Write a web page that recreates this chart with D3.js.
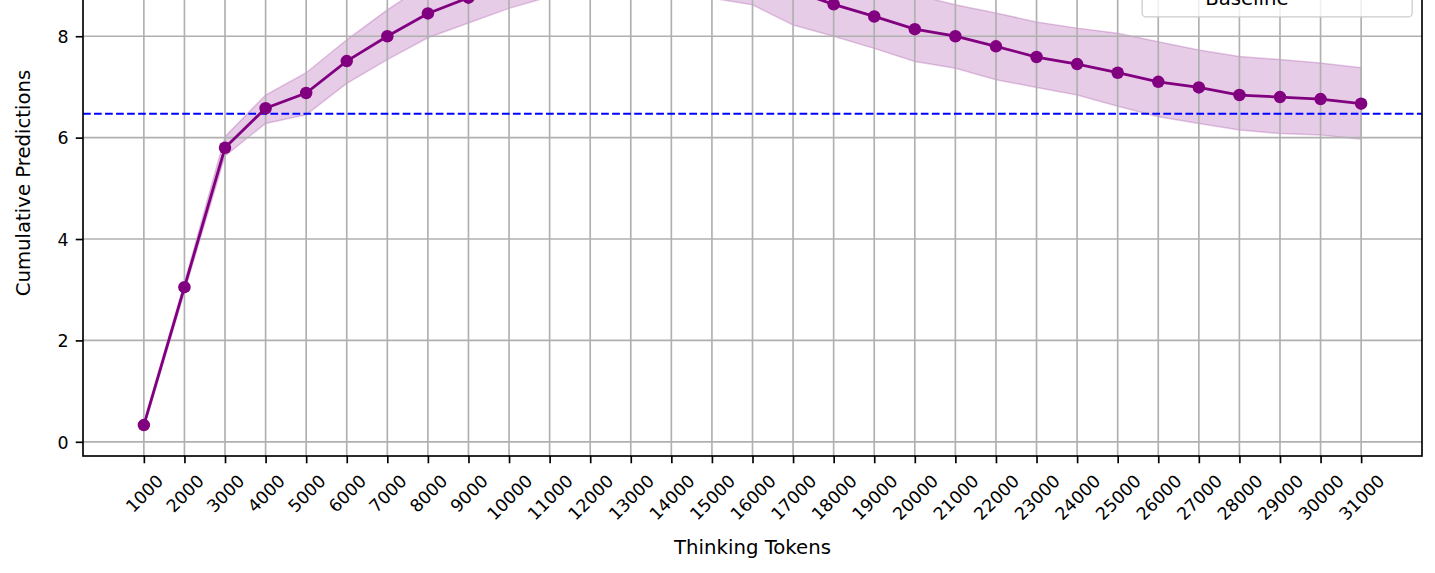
<!DOCTYPE html>
<html>
<head>
<meta charset="utf-8">
<script src="https://cdn.jsdelivr.net/npm/d3@7"></script>
<style>
  body { margin: 0; background: #fff; }
  svg { display: block; font-family: "DejaVu Sans", sans-serif; }
</style>
</head>
<body>
<div id="chart"></div>
<script>
// data (tokens 10000-17000 sit above the visible area, estimated)
var tokens = [1000, 2000, 3000, 4000, 5000, 6000, 7000, 8000, 9000, 10000,
  11000, 12000, 13000, 14000, 15000, 16000, 17000, 18000, 19000, 20000,
  21000, 22000, 23000, 24000, 25000, 26000, 27000, 28000, 29000, 30000, 31000];
var meanPred = [0.33, 3.05, 5.80, 6.58, 6.88, 7.51, 8.00, 8.45, 8.76, 9.00,
  9.25, 9.40, 9.45, 9.45, 9.35, 9.15, 8.90, 8.63, 8.39, 8.14,
  8.00, 7.80, 7.59, 7.45, 7.28, 7.10, 6.99, 6.84, 6.80, 6.76, 6.67];
var lowerPred = [0.27, 2.96, 5.64, 6.28, 6.45, 7.07, 7.54, 7.97, 8.26, 8.55,
  8.78, 8.90, 8.95, 8.90, 8.75, 8.62, 8.22, 8.00, 7.76, 7.50,
  7.37, 7.14, 6.99, 6.84, 6.62, 6.41, 6.28, 6.15, 6.08, 6.05, 5.97];
var upperPred = [0.39, 3.14, 6.02, 6.84, 7.28, 7.93, 8.52, 9.05, 9.30, 9.50,
  9.70, 9.85, 9.90, 9.95, 9.90, 9.70, 9.50, 9.30, 9.05, 8.82,
  8.62, 8.46, 8.28, 8.16, 8.06, 7.89, 7.73, 7.60, 7.54, 7.47, 7.38];
var baselineValue = 6.47;
var yTicks = [0, 2, 4, 6, 8, 10];
var legendLabels = ["Mean Predictions", "Standard Deviation", "Baseline"];

var svgWidth = 1435;
var svgHeight = 573;

// plot top lies above the picture, like the cropped reference
var margin = { top: -90, right: 13, bottom: 117, left: 83 };
var width = svgWidth - margin.left - margin.right;
var height = svgHeight - margin.top - margin.bottom;

var pt = 2.08;             // px per point
var tickFont = 17.4;
var labelFont = 19.7;
var purple = "#800080";

var svg = d3.select("#chart")
  .append("svg")
  .attr("width", svgWidth)
  .attr("height", svgHeight);

var chartGroup = svg.append("g")
  .attr("transform", `translate(${margin.left}, ${margin.top})`);

var xScale = d3.scaleLinear()
  .domain([-500, 32500])
  .range([0, width]);

var yScale = d3.scaleLinear()
  .domain([-0.28, 10.49])
  .range([height, 0]);

var data = tokens.map((t, i) => ({
  t: t, mean: meanPred[i], lo: lowerPred[i], hi: upperPred[i]
}));

// std band
var area = d3.area()
  .x(d => xScale(d.t))
  .y0(d => yScale(d.lo))
  .y1(d => yScale(d.hi));

chartGroup.append("path")
  .datum(data)
  .attr("d", area)
  .attr("fill", purple)
  .attr("fill-opacity", 0.2)
  .attr("stroke", purple)
  .attr("stroke-opacity", 0.2)
  .attr("stroke-width", 1.5);

// grid
chartGroup.append("g")
  .selectAll("line")
  .data(tokens)
  .enter()
  .append("line")
  .attr("x1", d => xScale(d))
  .attr("x2", d => xScale(d))
  .attr("y1", 0)
  .attr("y2", height)
  .attr("stroke", "#b0b0b0")
  .attr("stroke-width", 0.8 * pt);

chartGroup.append("g")
  .selectAll("line")
  .data(yTicks)
  .enter()
  .append("line")
  .attr("x1", 0)
  .attr("x2", width)
  .attr("y1", d => yScale(d))
  .attr("y2", d => yScale(d))
  .attr("stroke", "#b0b0b0")
  .attr("stroke-width", 0.8 * pt);

// baseline
chartGroup.append("line")
  .attr("x1", 0)
  .attr("x2", width)
  .attr("y1", yScale(baselineValue))
  .attr("y2", yScale(baselineValue))
  .attr("stroke", "#0000ff")
  .attr("stroke-width", 2)
  .attr("stroke-dasharray", `${3.7 * pt},${1.6 * pt}`);

// mean line + markers
var line = d3.line()
  .x(d => xScale(d.t))
  .y(d => yScale(d.mean));

chartGroup.append("path")
  .datum(data)
  .attr("d", line)
  .attr("fill", "none")
  .attr("stroke", purple)
  .attr("stroke-width", 2.8);

chartGroup.selectAll("circle")
  .data(data)
  .enter()
  .append("circle")
  .attr("cx", d => xScale(d.t))
  .attr("cy", d => yScale(d.mean))
  .attr("r", 6.25)
  .attr("fill", purple);

// axes
var tickLen = 3.5 * pt;
var bottomAxis = d3.axisBottom(xScale).tickValues(tokens).tickSize(tickLen).tickPadding(tickLen)
  .tickFormat(d3.format("d"));
var leftAxis = d3.axisLeft(yScale).tickValues(yTicks).tickSize(tickLen).tickPadding(tickLen)
  .tickFormat(d3.format("d"));

var xAxisG = chartGroup.append("g")
  .attr("transform", `translate(0, ${height})`)
  .call(bottomAxis)
  .attr("font-size", tickFont)
  .attr("font-family", "DejaVu Sans");
xAxisG.select(".domain").remove();
xAxisG.selectAll("line").attr("stroke", "#000").attr("stroke-width", 0.8 * pt);
xAxisG.selectAll("text")
  .attr("fill", "#000")
  .attr("y", 0)
  .attr("dy", "0.36em")
  .style("text-anchor", "middle")
  .each(function () {
    var w = this.getComputedTextLength();
    var cy = 2 * tickLen + (w + 1.164 * tickFont) * 0.3536;
    d3.select(this).attr("transform", `translate(0, ${cy}) rotate(-45)`);
  });

var yAxisG = chartGroup.append("g")
  .call(leftAxis)
  .attr("font-size", tickFont)
  .attr("font-family", "DejaVu Sans");
yAxisG.select(".domain").remove();
yAxisG.selectAll("line").attr("stroke", "#000").attr("stroke-width", 0.8 * pt);
yAxisG.selectAll("text")
  .attr("fill", "#000")
  .attr("dy", "0.36em");

// frame
chartGroup.append("rect")
  .attr("x", 0)
  .attr("y", 0)
  .attr("width", width)
  .attr("height", height)
  .attr("fill", "none")
  .attr("stroke", "#000")
  .attr("stroke-width", 0.8 * pt);

// legend (upper right, mostly above the picture)
var legendG = chartGroup.append("g");
var pad = 0.4 * labelFont;
var rowH = 1.17 * labelFont;
var rowGap = 0.5 * labelFont;
var textX = pad + 2 * labelFont + 0.8 * labelFont;

var legendTexts = legendG.selectAll("text")
  .data(legendLabels)
  .enter()
  .append("text")
  .attr("font-size", labelFont)
  .attr("fill", "#000")
  .attr("x", textX)
  .attr("y", (d, i) => pad + i * (rowH + rowGap) + rowH / 2)
  .attr("dy", "0.36em")
  .text(d => d);

var maxW = d3.max(legendTexts.nodes(), n => n.getComputedTextLength());
var boxW = Math.max(270, textX + maxW + pad);
var boxH = pad * 2 + legendLabels.length * rowH + (legendLabels.length - 1) * rowGap;

legendG.insert("rect", "text")
  .attr("width", boxW)
  .attr("height", boxH)
  .attr("rx", 4)
  .attr("fill", "#fff")
  .attr("fill-opacity", 0.8)
  .attr("stroke", "#cccccc")
  .attr("stroke-width", 1.3);

var hx0 = pad, hx1 = pad + 2 * labelFont;
var rowY = i => pad + i * (rowH + rowGap) + rowH / 2 - 3;
legendG.append("line")
  .attr("x1", hx0).attr("x2", hx1).attr("y1", rowY(0)).attr("y2", rowY(0))
  .attr("stroke", purple).attr("stroke-width", 2.8);
legendG.append("circle")
  .attr("cx", (hx0 + hx1) / 2).attr("cy", rowY(0)).attr("r", 6.25).attr("fill", purple);
legendG.append("rect")
  .attr("x", hx0).attr("y", rowY(1) - 0.35 * labelFont)
  .attr("width", hx1 - hx0).attr("height", 0.7 * labelFont)
  .attr("fill", purple).attr("fill-opacity", 0.2);
legendG.append("line")
  .attr("x1", hx0).attr("x2", hx1).attr("y1", rowY(2)).attr("y2", rowY(2))
  .attr("stroke", "#0000ff").attr("stroke-width", 2)
  .attr("stroke-dasharray", `${3.7 * pt},${1.6 * pt}`);

var legendRight = width - 0.5 * labelFont;
var legendBottom = yScale(8) - 19.3;
legendG.attr("transform", `translate(${legendRight - boxW}, ${legendBottom - boxH})`);

// axis titles
chartGroup.append("text")
  .attr("transform", "rotate(-90)")
  .attr("x", -height / 2)
  .attr("y", 30 - margin.left)
  .attr("font-size", labelFont)
  .attr("fill", "#000")
  .style("text-anchor", "middle")
  .text("Cumulative Predictions");

chartGroup.append("text")
  .attr("x", width / 2)
  .attr("y", 554 - margin.top)
  .attr("font-size", labelFont)
  .attr("fill", "#000")
  .style("text-anchor", "middle")
  .text("Thinking Tokens");
</script>
</body>
</html>
